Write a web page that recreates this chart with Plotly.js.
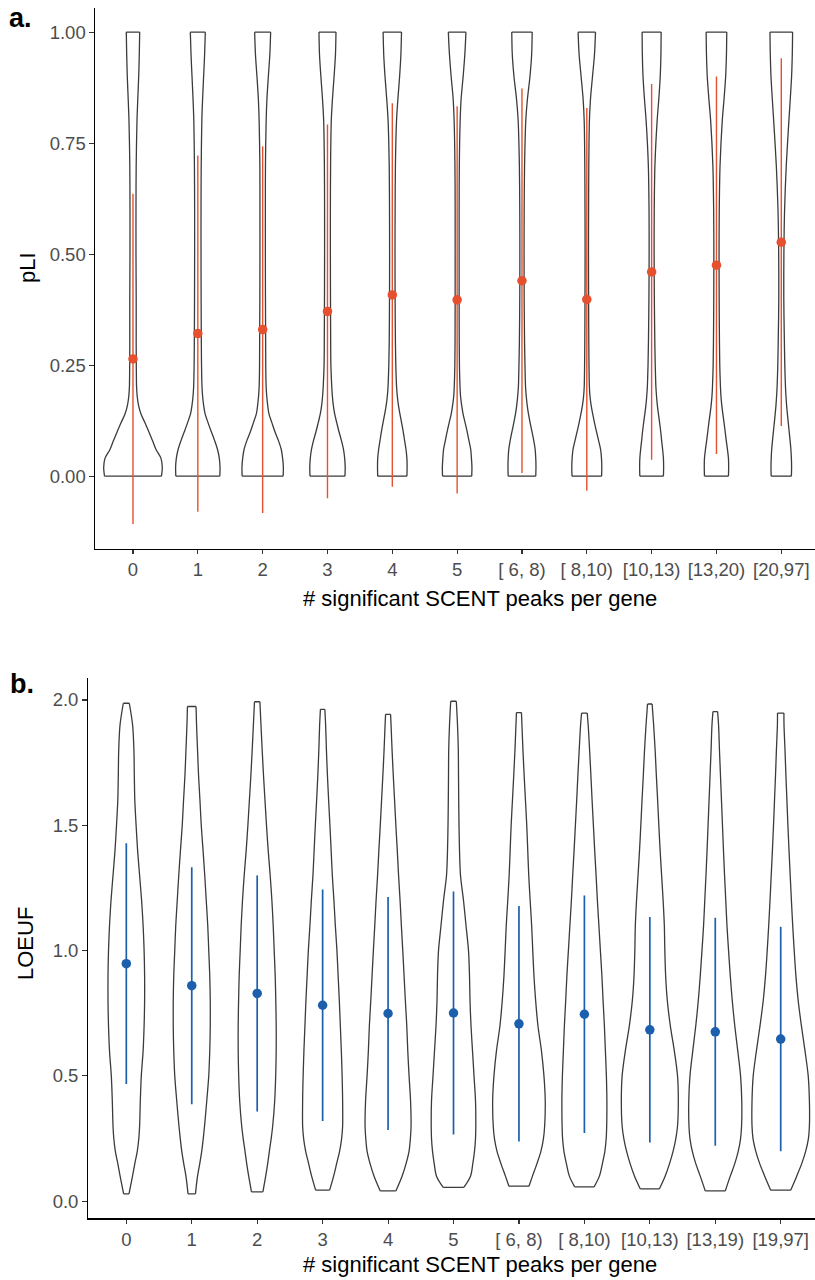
<!DOCTYPE html>
<html>
<head>
<meta charset="utf-8">
<script src="https://cdn.plot.ly/plotly-3.0.1.min.js"></script>
<style>
  html, body { margin: 0; padding: 0; background: #ffffff; }
  #chart { width: 815px; height: 1280px; }
</style>
</head>
<body>
<div id="chart"></div>
<script>
// ---------------- data ----------------
const categoriesA = ['0', '1', '2', '3', '4', '5', '[ 6, 8)', '[ 8,10)', '[10,13)', '[13,20)', '[20,97]'];
const categoriesB = ['0', '1', '2', '3', '4', '5', '[ 6, 8)', '[ 8,10)', '[10,13)', '[13,19)', '[19,97]'];

// panel a: pLI mean and standard deviation per group
const pliMean = [0.264, 0.321, 0.330, 0.371, 0.408, 0.397, 0.440, 0.398, 0.460, 0.475, 0.527];
const pliSd   = [0.372, 0.401, 0.413, 0.421, 0.432, 0.436, 0.433, 0.431, 0.423, 0.425, 0.414];

// panel b: LOEUF mean and standard deviation per group
const loeufMean = [0.948, 0.860, 0.829, 0.782, 0.749, 0.751, 0.708, 0.746, 0.684, 0.676, 0.647];
const loeufSd   = [0.480, 0.473, 0.471, 0.462, 0.465, 0.485, 0.470, 0.474, 0.450, 0.455, 0.448];

// violin density profiles (arbitrary density units)
const pliGrid = [0, 0.02, 0.04, 0.06, 0.08, 0.10, 0.12, 0.14, 0.16, 0.18, 0.20, 0.25, 0.30, 0.40, 0.50, 0.60, 0.70, 0.80, 0.85, 0.90, 0.95, 1.00];
const pliDensity = [
  [28.5, 29.3, 28.0, 23.0, 19.5, 15.8, 12.0, 8.0, 5.5, 4.2, 3.6, 3.3, 3.2, 3.2, 3.0, 3.0, 3.2, 4.0, 4.8, 5.7, 6.3, 6.7],
  [22.0, 22.2, 21.5, 19.7, 16.8, 13.5, 10.3, 7.3, 5.8, 4.8, 4.2, 3.7, 3.5, 3.3, 3.2, 3.2, 3.4, 4.0, 4.8, 5.8, 6.8, 7.5],
  [20.5, 20.7, 20.0, 18.6, 15.8, 12.3, 9.3, 6.3, 5.0, 4.1, 3.5, 3.1, 3.0, 2.8, 2.7, 2.7, 2.8, 3.5, 4.3, 5.7, 7.2, 8.0],
  [17.5, 17.7, 17.2, 16.0, 14.0, 11.5, 9.3, 7.2, 5.8, 4.9, 4.3, 3.4, 3.2, 3.0, 2.9, 2.9, 3.1, 3.8, 5.0, 6.6, 8.0, 8.5],
  [14.6, 14.8, 14.6, 13.7, 12.3, 10.9, 9.3, 7.6, 6.1, 5.0, 4.3, 3.5, 3.1, 2.8, 2.7, 2.8, 3.1, 4.2, 5.6, 7.3, 8.6, 9.2],
  [14.6, 14.8, 14.3, 13.6, 11.8, 10.0, 8.0, 5.9, 4.5, 3.4, 2.9, 2.3, 2.1, 2.0, 2.0, 2.0, 2.2, 3.0, 4.0, 6.0, 7.7, 8.8],
  [13.8, 14.0, 13.8, 13.2, 11.8, 10.0, 8.2, 6.5, 5.2, 4.3, 3.6, 3.0, 2.6, 2.2, 2.1, 2.2, 2.6, 3.8, 5.5, 8.0, 9.7, 10.2],
  [14.8, 15.0, 14.7, 13.8, 11.8, 9.7, 7.7, 5.9, 4.3, 3.2, 2.6, 2.2, 2.0, 1.8, 1.7, 1.8, 2.0, 2.6, 3.7, 5.7, 7.7, 8.7],
  [11.8, 12.0, 11.8, 11.0, 10.0, 9.1, 8.0, 6.8, 5.7, 4.9, 4.3, 3.6, 3.2, 2.7, 2.5, 2.6, 3.3, 5.5, 7.2, 8.6, 9.3, 9.5],
  [12.0, 12.2, 12.0, 11.0, 9.8, 8.7, 7.6, 6.4, 5.3, 4.5, 4.0, 3.3, 3.0, 2.7, 2.6, 2.8, 3.6, 5.8, 7.6, 9.2, 10.0, 10.3],
  [10.1, 10.3, 10.1, 9.6, 8.8, 7.9, 7.0, 6.1, 5.3, 4.7, 4.2, 3.5, 3.1, 2.5, 2.6, 3.3, 5.0, 7.6, 9.0, 10.3, 11.0, 11.3]
];

const loeufMin = [0.029, 0.029, 0.037, 0.044, 0.041, 0.055, 0.060, 0.057, 0.049, 0.041, 0.044];
const loeufMax = [1.987, 1.974, 1.993, 1.963, 1.943, 1.995, 1.950, 1.948, 1.984, 1.954, 1.948];
const loeufGrid = [0.10, 0.15, 0.20, 0.25, 0.30, 0.40, 0.50, 0.60, 0.70, 0.80, 0.90, 1.00, 1.10, 1.20, 1.30, 1.40, 1.50, 1.60, 1.70, 1.80, 1.90];
// first value: density at the group minimum, last value: density at the group maximum
const loeufDensity = [
  [2.7, 6.2, 8.5, 11.0, 12.5, 13.3, 14.0, 15.0, 16.8, 17.8, 18.3, 18.3, 17.8, 16.8, 15.3, 13.3, 11.3, 9.8, 8.5, 8.0, 7.6, 6.3, 3.0],
  [3.7, 5.8, 8.0, 10.0, 11.5, 12.8, 15.0, 17.0, 18.0, 18.5, 18.5, 18.0, 17.0, 16.0, 14.5, 13.0, 11.3, 9.5, 8.2, 6.8, 5.8, 4.8, 4.3],
  [5.7, 8.5, 10.5, 12.2, 14.0, 15.5, 17.5, 18.5, 19.0, 19.0, 18.6, 18.0, 17.0, 16.0, 14.7, 13.0, 11.0, 9.3, 7.8, 6.3, 5.0, 3.8, 2.7],
  [7.0, 11.0, 14.0, 17.0, 19.0, 20.0, 20.0, 19.5, 18.7, 17.7, 16.7, 15.5, 14.3, 12.7, 11.3, 9.7, 8.5, 7.3, 6.0, 4.8, 3.8, 3.0, 2.2],
  [7.8, 14.0, 18.0, 21.0, 22.3, 23.0, 22.5, 21.0, 19.7, 18.7, 17.3, 16.0, 14.7, 13.3, 12.0, 10.5, 9.2, 7.8, 6.5, 5.2, 4.0, 3.0, 2.5],
  [10.3, 17.0, 19.3, 21.0, 22.0, 22.3, 22.0, 20.5, 19.0, 17.5, 16.5, 16.0, 15.0, 12.5, 10.0, 7.0, 6.0, 5.5, 5.2, 5.0, 4.8, 4.0, 2.8],
  [10.0, 13.5, 18.0, 22.0, 24.5, 25.7, 26.3, 25.0, 22.5, 19.0, 16.7, 15.0, 13.8, 12.7, 11.2, 9.8, 8.8, 7.8, 6.5, 5.2, 4.0, 3.0, 2.5],
  [9.7, 15.0, 18.0, 20.5, 21.8, 22.3, 22.5, 22.0, 21.0, 20.0, 18.7, 17.5, 16.0, 14.5, 13.0, 11.7, 10.3, 9.0, 7.7, 6.5, 5.2, 3.8, 2.8],
  [9.5, 15.3, 19.7, 23.3, 26.0, 27.7, 28.5, 27.7, 24.5, 20.5, 17.5, 15.8, 15.0, 14.5, 13.3, 11.8, 10.3, 9.0, 7.8, 6.5, 5.3, 3.8, 2.3],
  [10.0, 15.0, 19.5, 23.0, 25.3, 26.3, 26.5, 25.3, 22.5, 19.5, 17.0, 15.0, 13.3, 11.7, 10.5, 9.3, 8.2, 7.2, 6.2, 5.2, 4.2, 3.3, 2.3],
  [10.0, 16.0, 21.0, 25.0, 27.7, 28.7, 28.7, 27.5, 24.3, 20.7, 17.5, 15.2, 13.5, 12.0, 10.7, 9.5, 8.3, 7.2, 6.2, 5.2, 4.3, 3.3, 3.2]
];

// ---------------- drawing ----------------
const W = 815, H = 1280;
const fx = p => p / W;           // pixel -> paper x
const fy = p => 1 - p / H;       // pixel -> paper y
const FONT = 'Liberation Sans, Arial, Helvetica, sans-serif';

const densityScaleA = 1 / 64.83;   // density units -> category units (panel a)
const densityScaleB = 1 / 65.44;   // density units -> category units (panel b)

const OUTLINE = '#3b3b3b', OUTLINE_W = 1.3;
const traces = [];

// each violin: two smooth sides (spline) + flat ends (straight), so the end corners stay sharp
function violin(center, ys, ws, scale, xa, ya) {
  const n = ys.length;
  const right = { x: ws.map(w => center + w * scale), y: ys.slice() };
  const left  = { x: ws.map(w => center - w * scale), y: ys.slice() };
  const side = s => ({ type: 'scatter', mode: 'lines', x: s.x, y: s.y, xaxis: xa, yaxis: ya,
      line: { color: OUTLINE, width: OUTLINE_W, shape: 'spline', smoothing: 0.9 },
      hoverinfo: 'skip', showlegend: false });
  const ends = { type: 'scatter', mode: 'lines', xaxis: xa, yaxis: ya,
      x: [left.x[0], right.x[0], null, left.x[n - 1], right.x[n - 1]],
      y: [ys[0], ys[0], null, ys[n - 1], ys[n - 1]],
      line: { color: OUTLINE, width: OUTLINE_W }, hoverinfo: 'skip', showlegend: false };
  return [side(right), side(left), ends];
}

function meanSd(means, sds, color, lw, xa, ya) {
  const lx = [], ly = [];
  means.forEach((m, i) => { lx.push(i, i, null); ly.push(m - sds[i], m + sds[i], null); });
  return [
    { type: 'scatter', mode: 'lines', x: lx, y: ly, xaxis: xa, yaxis: ya,
      line: { color: color, width: lw }, hoverinfo: 'skip', showlegend: false },
    { type: 'scatter', mode: 'markers', x: means.map((m, i) => i), y: means, xaxis: xa, yaxis: ya,
      marker: { color: color, size: 9.5, line: { width: 0 } }, hoverinfo: 'skip', showlegend: false }
  ];
}

// panel a
pliDensity.forEach((d, i) => traces.push(...violin(i, pliGrid, d, densityScaleA, 'x', 'y')));
traces.push(...meanSd(pliMean, pliSd, '#E6502F', 1.4, 'x', 'y'));

// panel b
loeufDensity.forEach((d, i) => {
  const ys = [loeufMin[i], ...loeufGrid, loeufMax[i]];
  traces.push(...violin(i, ys, d, densityScaleB, 'x2', 'y2'));
});
traces.push(...meanSd(loeufMean, loeufSd, '#1C5FAD', 1.7, 'x2', 'y2'));

const tickFont = { family: FONT, size: 18.5, color: '#4D4D4D' };
const axisCommon = {
  showline: true, linecolor: '#000000', linewidth: 1.1, mirror: false,
  ticks: 'outside', ticklen: 4.5, tickwidth: 1.1, tickcolor: '#333333',
  showgrid: false, zeroline: false, tickfont: tickFont, fixedrange: true
};
const idx = categoriesA.map((c, i) => i);

const layout = {
  width: W, height: H,
  margin: { l: 0, r: 0, t: 0, b: 0, pad: 0 },
  paper_bgcolor: '#ffffff', plot_bgcolor: '#ffffff',
  showlegend: false, hovermode: false,
  font: { family: FONT },
  xaxis: Object.assign({}, axisCommon, {
    domain: [fx(95), 1], range: [-0.586, 10.52], anchor: 'y',
    tickmode: 'array', tickvals: idx, ticktext: categoriesA
  }),
  yaxis: Object.assign({}, axisCommon, {
    domain: [fy(548.5), fy(8)], range: [-0.163, 1.0543], anchor: 'x',
    tickmode: 'array', tickvals: [0, 0.25, 0.5, 0.75, 1], tickformat: '.2f'
  }),
  xaxis2: Object.assign({}, axisCommon, {
    domain: [fx(87.7), 1], range: [-0.590, 10.524], anchor: 'y2',
    tickmode: 'array', tickvals: idx, ticktext: categoriesB
  }),
  yaxis2: Object.assign({}, axisCommon, {
    domain: [fy(1218.4), fy(677.6)], range: [-0.0686, 2.0894], anchor: 'x2',
    tickmode: 'array', tickvals: [0, 0.5, 1, 1.5, 2], tickformat: '.1f'
  }),
  annotations: [
    { text: '<b>a.</b>', xref: 'paper', yref: 'paper', x: fx(7), y: fy(18), xanchor: 'left', yanchor: 'middle',
      showarrow: false, font: { family: FONT, size: 27, color: '#000000' } },
    { text: '<b>b.</b>', xref: 'paper', yref: 'paper', x: fx(8), y: fy(684), xanchor: 'left', yanchor: 'middle',
      showarrow: false, font: { family: FONT, size: 27, color: '#000000' } },
    { text: 'pLI', xref: 'paper', yref: 'paper', x: fx(27), y: fy(268), xanchor: 'center', yanchor: 'middle',
      textangle: -90, showarrow: false, font: { family: FONT, size: 22, color: '#000000' } },
    { text: 'LOEUF', xref: 'paper', yref: 'paper', x: fx(25), y: fy(944), xanchor: 'center', yanchor: 'middle',
      textangle: -90, showarrow: false, font: { family: FONT, size: 22, color: '#000000' } },
    { text: '# significant SCENT peaks per gene', xref: 'paper', yref: 'paper', x: fx(480), y: fy(598),
      xanchor: 'center', yanchor: 'middle', showarrow: false, font: { family: FONT, size: 22, color: '#000000' } },
    { text: '# significant SCENT peaks per gene', xref: 'paper', yref: 'paper', x: fx(480), y: fy(1264),
      xanchor: 'center', yanchor: 'middle', showarrow: false, font: { family: FONT, size: 22, color: '#000000' } }
  ]
};

Plotly.newPlot('chart', traces, layout, { staticPlot: true, displayModeBar: false });
</script>
</body>
</html>
